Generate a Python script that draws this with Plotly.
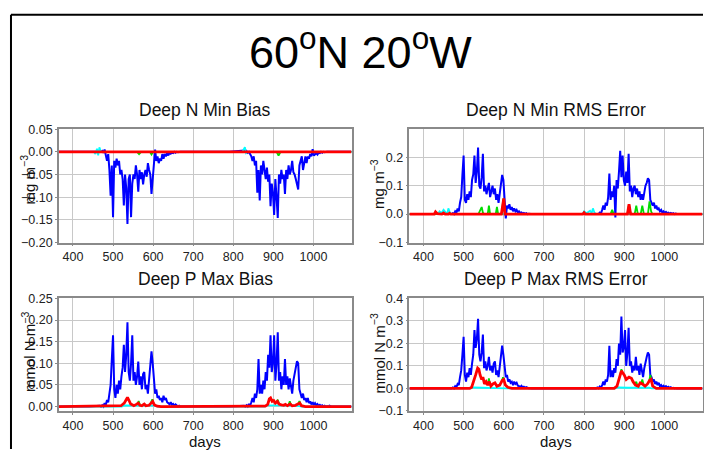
import plotly.graph_objects as go

W, H = 704, 456

# ---------------- data ----------------
PRE = [365, 400, 440, 467]
GRID_A = list(range(470, 669, 3))   # 67 days
GAP = [690, 740, 790, 827]
GRID_B = list(range(830, 1050, 3))  # 74 days
POST = [1070, 1095]
days = PRE + GRID_A + GAP + GRID_B + POST

# Deep N Min Bias (mg m-3)
n_bias_blue = [0, 0, 0, 0] + [
    0.0, 0.002, -0.002, 0.005, -0.01, -0.02, -0.005, -0.04, -0.097, -0.03,
    -0.144, -0.02, -0.035, -0.015, -0.03, -0.02, -0.05, -0.04, -0.06, -0.118,
    -0.05, -0.08, -0.159, -0.06, -0.05, -0.144, -0.07, -0.05, -0.06, -0.03,
    -0.05, -0.088, -0.04, -0.06, -0.045, -0.072, -0.05, -0.04, -0.055, -0.025,
    -0.04, -0.05, -0.093, -0.06, -0.01, 0.005, -0.02, -0.01, -0.025, -0.015,
    -0.02, -0.005, -0.015, -0.005, -0.01, -0.003, -0.008, -0.002, -0.004, -0.002,
    -0.003, 0.0, -0.002, 0.0, -0.001, 0.0, 0.0] + [0, 0, 0, 0.003] + [
    0.0, 0.002, -0.002, 0.0, -0.005, -0.01, -0.02, -0.01, -0.03, -0.02,
    -0.09, -0.04, -0.107, -0.03, -0.05, -0.02, -0.04, -0.06, -0.035, -0.066,
    -0.05, -0.12, -0.07, -0.09, -0.139, -0.06, -0.1, -0.146, -0.05, -0.07,
    -0.04, -0.06, -0.05, -0.093, -0.04, -0.06, -0.03, -0.05, -0.04, -0.02,
    -0.045, -0.05, -0.06, -0.07, -0.083, -0.03, -0.02, -0.01, -0.04, -0.02,
    -0.01, -0.025, -0.01, -0.015, -0.005, -0.01, 0.006, -0.008, -0.004, -0.003,
    -0.006, -0.002, -0.003, 0.0, -0.002, 0.0, -0.001, 0.0, 0.0, 0.0,
    0.0, 0.0, 0.0, 0.0] + [0, 0]
n_bias_red_days = [365, 1095]
n_bias_red = [0.0, 0.0]
n_bias_green_days = [365, 560, 565, 570, 592, 596, 600, 908, 913, 918, 1095]
n_bias_green = [0, 0, -0.005, 0, 0, -0.006, 0, 0, -0.008, 0, 0]
n_bias_cyan_days = [365, 452, 456, 460, 463, 466, 470, 823, 826, 829, 832, 836, 1095]
n_bias_cyan = [0, 0, -0.005, 0.007, -0.008, 0.01, 0, 0, 0.005, 0.01, -0.003, 0, 0]

# Deep N Min RMS Error (mg m-3)
n_rms_blue = [0, 0, 0, 0] + [
    0.0, 0.003, 0.0, 0.01, 0.005, 0.02, 0.01, 0.04, 0.06, 0.138,
    0.206, 0.05, 0.04, 0.07, 0.05, 0.08, 0.06, 0.12, 0.14, 0.206,
    0.11, 0.15, 0.234, 0.1, 0.09, 0.13, 0.212, 0.08, 0.1, 0.07,
    0.09, 0.11, 0.06, 0.08, 0.1, 0.07, 0.09, 0.05, 0.07, 0.04,
    0.08, 0.11, 0.138, 0.12, 0.06, -0.015, 0.03, 0.02, 0.035, 0.015,
    0.025, 0.01, 0.02, 0.01, 0.015, 0.005, 0.01, 0.004, 0.006, 0.002,
    0.004, 0.001, 0.003, 0.0, 0.001, 0.0, 0.0] + [0, 0, 0, 0.002] + [
    0.0, 0.002, 0.0, 0.005, 0.002, 0.015, 0.03, 0.015, 0.04, 0.03,
    0.06, 0.143, 0.05, 0.08, 0.06, 0.1, -0.012, 0.12, 0.09, 0.15,
    0.223, 0.13, 0.206, 0.12, 0.1, 0.15, 0.11, 0.212, 0.08, 0.1,
    0.06, 0.09, 0.1, 0.07, 0.09, 0.06, 0.08, 0.05, 0.07, 0.05,
    0.08, 0.1, 0.11, 0.126, 0.12, 0.05, 0.04, 0.03, 0.04, 0.02,
    0.03, 0.015, 0.02, 0.01, 0.015, 0.005, 0.01, 0.004, 0.008, 0.003,
    0.005, 0.002, 0.004, 0.001, 0.003, 0.0, 0.002, 0.0, 0.0, 0.0,
    0.0, 0.0, 0.0, 0.0] + [0, 0]
n_rms_red_days = [365, 427, 430, 434, 446, 450, 454, 462, 465, 468, 594, 598, 600, 603,
                  797, 800, 803, 908, 912, 916, 1095]
n_rms_red = [0, 0, 0.008, 0.002, 0, 0.004, 0, 0, 0.003, 0, 0, 0.05, 0.055, 0,
             0, 0.005, 0, 0, 0.035, 0, 0]
n_rms_green_days = [365, 537, 540, 545, 548, 551, 560, 563, 566, 580, 583, 586,
                    595, 599, 602, 605, 866, 870, 874, 908, 912, 916, 926, 930, 934,
                    941, 945, 949, 959, 963, 967, 970, 1095]
n_rms_green = [0, 0, 0.01, 0.025, 0.005, 0, 0, 0.03, 0, 0, 0.025, 0,
               0, 0.055, 0.01, 0, 0, 0.015, 0, 0, 0.035, 0, 0, 0.03, 0,
               0, 0.03, 0, 0, 0.045, 0.01, 0, 0]
n_rms_cyan_days = [365, 436, 440, 445, 450, 455, 459, 462, 466, 470,
                   796, 800, 806, 815, 819, 822, 826, 830, 1095]
n_rms_cyan = [0, 0, 0.01, 0.004, 0.015, 0.005, 0.0, 0.02, 0.005, 0,
              0, 0.01, 0.003, 0.012, 0.004, 0.02, 0.005, 0, 0]

# Deep P Max Bias (mmol N m-3)
p_bias_blue = [0, 0, 0, 0.002] + [
    0.0, 0.003, 0.0, 0.008, 0.004, 0.015, 0.01, 0.03, 0.05, 0.11,
    0.165, 0.04, 0.02, 0.05, 0.03, 0.06, 0.04, 0.07, 0.09, 0.143,
    0.08, 0.12, 0.195, 0.08, 0.06, 0.1, 0.165, 0.06, 0.08, 0.05,
    0.07, 0.104, 0.05, 0.07, 0.04, 0.075, 0.08, 0.04, 0.05, 0.03,
    0.06, 0.09, 0.128, 0.1, 0.05, 0.03, 0.04, 0.02, 0.025, 0.015,
    0.02, 0.01, 0.025, 0.015, 0.02, 0.01, 0.008, 0.005, 0.01, 0.004,
    0.006, 0.002, 0.005, 0.002, 0.0, 0.002, 0.0] + [0, 0, 0, 0.002] + [
    0.0, 0.003, 0.0, 0.006, 0.002, 0.01, 0.02, 0.01, 0.03, 0.02,
    0.04, 0.11, 0.03, 0.05, 0.03, 0.06, 0.04, 0.08, 0.06, 0.12,
    0.09, 0.165, 0.08, 0.1, 0.165, 0.06, 0.1, 0.172, 0.06, 0.08,
    0.04, 0.07, 0.05, 0.11, 0.05, 0.07, 0.04, 0.065, 0.05, 0.03,
    0.06, 0.08, 0.09, 0.105, 0.1, 0.04, 0.03, 0.02, 0.03, 0.015,
    0.02, 0.01, 0.02, 0.008, 0.012, 0.005, 0.01, 0.004, 0.008, 0.003,
    0.006, 0.002, 0.004, 0.001, 0.003, 0.0, 0.002, 0.0, 0.001, 0.0,
    0.002, 0.0, 0.0, 0.0] + [0, 0]
p_bias_red_days = [365, 520, 528, 533, 536, 540, 544, 548, 552, 558, 563, 567, 572, 578,
                   582, 590, 596, 599, 603, 610, 620,
                   880, 886, 890, 893, 897, 901, 905, 910, 914, 920, 926, 930, 935,
                   942, 947, 955, 962, 966, 970, 980, 1095]
p_bias_red = [0, 0.002, 0.008, 0.018, 0.021, 0.014, 0.006, 0.004, 0.002, 0.005, 0.008,
              0.003, 0.002, 0.006, 0.002, 0.003, 0.01, 0.012, 0.004, 0.001, 0,
              0.001, 0.005, 0.018, 0.02, 0.012, 0.014, 0.008, 0.012, 0.006, 0.004,
              0.003, 0.005, 0.002, 0.006, 0.002, 0.003, 0.006, 0.008, 0.002, 0, 0]
# green: short separate segments (None breaks the line)
p_bias_green_days = [561, 564, 567, 567, 595, 598, 601, 601, 908, 911, 914, 914,
                     938, 941, 944, 944, 962, 965, 968]
p_bias_green = [0.005, 0.013, 0.004, None, 0.01, 0.017, 0.008, None, 0.011, 0.016, 0.007,
                None, 0.004, 0.012, 0.004, None, 0.006, 0.013, 0.005]
p_bias_cyan_days = [365, 522, 528, 550, 580, 605, 612, 878, 885, 920, 955, 972, 1095]
p_bias_cyan = [0, 0, 0.003, 0.003, 0.002, 0.002, 0, 0, 0.003, 0.003, 0.002, 0, 0]

# Deep P Max RMS Error (mmol N m-3)
p_rms_blue = [0, 0, 0, 0.002] + [
    0.0, 0.004, 0.0, 0.01, 0.005, 0.02, 0.015, 0.05, 0.08, 0.15,
    0.23, 0.06, 0.03, 0.07, 0.05, 0.09, 0.06, 0.11, 0.15, 0.26,
    0.18, 0.22, 0.31, 0.15, 0.12, 0.16, 0.24, 0.09, 0.12, 0.08,
    0.1, 0.14, 0.08, 0.1, 0.07, 0.11, 0.12, 0.06, 0.08, 0.05,
    0.09, 0.13, 0.19, 0.15, 0.08, 0.05, 0.06, 0.03, 0.04, 0.025,
    0.03, 0.015, 0.03, 0.02, 0.025, 0.012, 0.01, 0.006, 0.012, 0.005,
    0.008, 0.003, 0.006, 0.002, 0.001, 0.002, 0.0] + [0, 0, 0, 0.002] + [
    0.0, 0.004, 0.0, 0.008, 0.003, 0.015, 0.03, 0.015, 0.04, 0.03,
    0.06, 0.19, 0.05, 0.08, 0.05, 0.09, 0.07, 0.13, 0.1, 0.2,
    0.15, 0.32, 0.16, 0.18, 0.26, 0.1, 0.16, 0.27, 0.1, 0.12,
    0.07, 0.1, 0.08, 0.14, 0.08, 0.1, 0.06, 0.11, 0.08, 0.05,
    0.09, 0.12, 0.14, 0.16, 0.15, 0.06, 0.05, 0.03, 0.04, 0.02,
    0.03, 0.015, 0.025, 0.01, 0.015, 0.006, 0.012, 0.005, 0.01, 0.004,
    0.007, 0.002, 0.005, 0.001, 0.003, 0.0, 0.002, 0.0, 0.001, 0.0,
    0.0, 0.0, 0.0, 0.0] + [0, 0]
p_rms_red_days = [365, 515, 520, 525, 530, 535, 538, 541, 545, 548, 552, 556, 560, 564,
                  568, 573, 578, 583, 590, 596, 600, 604, 610, 620,
                  875, 882, 888, 893, 900, 905, 912, 918, 922, 928, 935, 940, 945,
                  952, 958, 963, 967, 971, 980, 1095]
p_rms_red = [0, 0, 0.005, 0.03, 0.06, 0.09, 0.085, 0.06, 0.04, 0.05, 0.02, 0.03, 0.015,
             0.03, 0.01, 0.02, 0.025, 0.01, 0.015, 0.035, 0.04, 0.015, 0.005, 0,
             0, 0.01, 0.05, 0.078, 0.06, 0.04, 0.05, 0.045, 0.03, 0.015, 0.01, 0.025,
             0.02, 0.01, 0.02, 0.035, 0.04, 0.01, 0, 0]
p_rms_green_days = [560, 563, 566, 566, 595, 598, 601, 601, 890, 893, 896, 896,
                    927, 930, 933, 933, 942, 945, 948, 948, 962, 965, 968]
p_rms_green = [0.015, 0.045, 0.015, None, 0.03, 0.05, 0.035, None, 0.06, 0.085, 0.065,
               None, 0.015, 0.03, 0.012, None, 0.02, 0.04, 0.018, None, 0.03, 0.06, 0.035]
p_rms_cyan_days = [365, 518, 524, 550, 575, 600, 608, 878, 884, 910, 940, 962, 968, 1095]
p_rms_cyan = [0, 0, 0.004, 0.003, 0.004, 0.003, 0, 0, 0.004, 0.003, 0.004, 0.003, 0, 0]

for arr in (n_bias_blue, n_rms_blue, p_bias_blue, p_rms_blue):
    assert len(arr) == len(days), (len(arr), len(days))

panels = [
    dict(title="Deep N Min Bias", ylabel="mg m<sup>\u22123</sup>",
         blue=n_bias_blue, red=(n_bias_red_days, n_bias_red),
         green=(n_bias_green_days, n_bias_green), cyan=(n_bias_cyan_days, n_bias_cyan),
         yrange=[-0.2, 0.05], dtick=0.05, fmt=".2f"),
    dict(title="Deep N Min RMS Error", ylabel="mg m<sup>\u22123</sup>",
         blue=n_rms_blue, red=(n_rms_red_days, n_rms_red),
         green=(n_rms_green_days, n_rms_green), cyan=(n_rms_cyan_days, n_rms_cyan),
         yrange=[-0.1, 0.299], dtick=0.1, fmt=".1f"),
    dict(title="Deep P Max Bias", ylabel="mmol N m<sup>\u22123</sup>",
         blue=p_bias_blue, red=(p_bias_red_days, p_bias_red),
         green=(p_bias_green_days, p_bias_green), cyan=(p_bias_cyan_days, p_bias_cyan),
         yrange=[-0.01, 0.25], dtick=0.05, fmt=".2f"),
    dict(title="Deep P Max RMS Error", ylabel="mmol N m<sup>\u22123</sup>",
         blue=p_rms_blue, red=(p_rms_red_days, p_rms_red),
         green=(p_rms_green_days, p_rms_green), cyan=(p_rms_cyan_days, p_rms_cyan),
         yrange=[-0.1, 0.4], dtick=0.1, fmt=".1f"),
]

# ---------------- layout geometry (pixels) ----------------
def px(x):
    return x / W

def py(y):
    return 1 - y / H

xdom = [[59, 352], [410, 703.5], [59, 352], [410, 703.5]]
ydom = [[126, 243], [126, 243], [300.7, 416.7], [300.7, 416.7]]
title_y = [106, 106, 281, 281]
ylab_pos = [(28, 178), (378, 182), (28, 356), (378, 357)]

FONT = "Liberation Sans, Arial, Helvetica, sans-serif"
fig = go.Figure()
annotations = []
layout = {}

for i, p in enumerate(panels):
    k = "" if i == 0 else str(i + 1)
    xa, ya = "x" + k, "y" + k
    d = p["red"]
    fig.add_trace(go.Scatter(x=days, y=p["blue"], mode="lines", xaxis=xa, yaxis=ya,
                             line=dict(color="#0000ff", width=2), showlegend=False))
    fig.add_trace(go.Scatter(x=p["cyan"][0], y=p["cyan"][1], mode="lines", xaxis=xa, yaxis=ya,
                             line=dict(color="#00ffff", width=1.8), showlegend=False))
    fig.add_trace(go.Scatter(x=p["green"][0], y=p["green"][1], mode="lines", xaxis=xa, yaxis=ya,
                             connectgaps=False,
                             line=dict(color="#00dd00", width=1.8), showlegend=False))
    fig.add_trace(go.Scatter(x=d[0], y=d[1], mode="lines", xaxis=xa, yaxis=ya,
                             line=dict(color="#ff0000", width=2.8), showlegend=False))
    layout["xaxis" + k] = dict(
        domain=[px(xdom[i][0]), px(xdom[i][1])], anchor=ya, range=[365, 1095],
        tick0=0, dtick=100, showgrid=True, gridcolor="#c8c8c8", gridwidth=1,
        showline=True, linecolor="#8a8a8a", linewidth=1.5, mirror=True,
        ticks="outside", ticklen=2, tickcolor="#8a8a8a", zeroline=False,
        tickfont=dict(family=FONT, size=12.5, color="#222"))
    layout["yaxis" + k] = dict(
        domain=[py(ydom[i][1]), py(ydom[i][0])], anchor=xa, range=p["yrange"],
        tick0=0, dtick=p["dtick"], tickformat=p["fmt"], showgrid=True,
        gridcolor="#c8c8c8", gridwidth=1, showline=True, linecolor="#8a8a8a",
        linewidth=1.5, mirror=True, ticks="outside", ticklen=2, tickcolor="#8a8a8a",
        zeroline=False, tickfont=dict(family=FONT, size=12.5, color="#222"))
    cx = (xdom[i][0] + xdom[i][1]) / 2
    annotations.append(dict(text=p["title"], x=px(cx), y=py(title_y[i]), xref="paper",
                            yref="paper", xanchor="center", yanchor="middle",
                            showarrow=False, font=dict(family=FONT, size=17.5, color="#111")))
    annotations.append(dict(text=p["ylabel"], x=px(ylab_pos[i][0]), y=py(ylab_pos[i][1]),
                            xref="paper", yref="paper", xanchor="center", yanchor="middle",
                            textangle=-90, showarrow=False,
                            font=dict(family=FONT, size=15, color="#111")))
    if i >= 2:
        annotations.append(dict(text="days", x=px(cx), y=py(448), xref="paper", yref="paper",
                                xanchor="center", yanchor="middle", showarrow=False,
                                font=dict(family=FONT, size=15, color="#111")))

annotations.append(dict(text="60<sup>o</sup>N 20<sup>o</sup>W", x=px(361), y=py(43),
                        xref="paper", yref="paper", xanchor="center", yanchor="middle",
                        showarrow=False, font=dict(family=FONT, size=45, color="#000")))

shapes = [
    dict(type="line", xref="paper", yref="paper", x0=px(11), x1=1.0, y0=py(8), y1=py(8),
         line=dict(color="#000", width=2)),
    dict(type="line", xref="paper", yref="paper", x0=px(11), x1=px(11), y0=py(8), y1=0,
         line=dict(color="#000", width=2)),
]

fig.update_layout(width=W, height=H, margin=dict(l=0, r=0, t=0, b=0),
                  paper_bgcolor="white", plot_bgcolor="white",
                  annotations=annotations, shapes=shapes, showlegend=False,
                  font=dict(family=FONT), **layout)

fig.write_html("out.html", config={"displayModeBar": False})
